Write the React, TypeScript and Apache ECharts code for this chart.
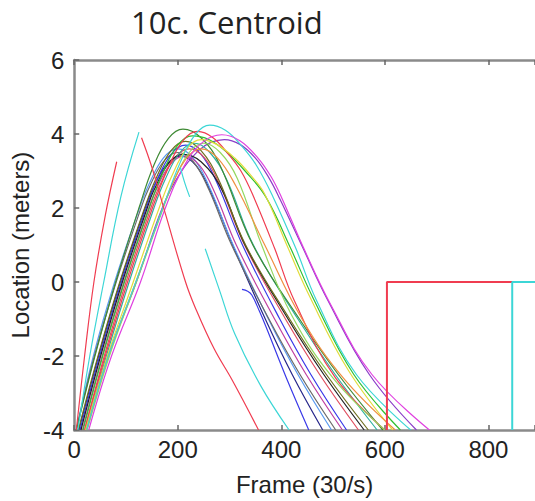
import React, { useEffect, useRef } from "react";
import * as echarts from "echarts";

const xTicks = [0, 200, 400, 600, 800];
const yTicks = [-4, -2, 0, 2, 4, 6];

const curveColors = [
  "#25258a", "#5a9af0", "#6a6a6a", "#c040a0", "#3a3ae8", "#8a3cc8",
  "#e05060", "#222222", "#6e6e1e", "#2fb0a0", "#3f8a35", "#30c030",
  "#f03c50", "#e2dc3c", "#94d860", "#f09040", "#3cd6d6", "#e040e0",
];

const curves: number[][][] = [
  [[9,-4],[47,-2],[89,0],[137,2],[148,2.4],[177,3.15],[205,3.4],[235,3.15],[265,2.4],[306,1],[369,-1],[421,-2.5],[480,-4]],
  [[4,-4],[37,-2],[78,0],[126,2],[143,2.6],[172,3.35],[200,3.6],[230,3.35],[260,2.6],[307,1],[375,-1],[432,-2.5],[497,-4]],
  [[4,-4],[39,-2],[81,0],[129,2],[143,2.5],[172,3.25],[200,3.5],[230,3.25],[260,2.5],[304,1],[376,-1],[436,-2.5],[505,-4]],
  [[16,-4],[54,-2],[96,0],[144,2],[155,2.4],[184,3.15],[212,3.4],[242,3.15],[272,2.4],[313,1],[387,-1],[448,-2.5],[518,-4]],
  [[11,-4],[49,-2],[91,0],[139,2],[158,2.7],[187,3.45],[215,3.7],[245,3.45],[275,2.7],[325,1],[397,-1],[457,-2.5],[526,-4]],
  [[24,-4],[66,-2],[120,0],[170,2],[205,2.95],[240,3.55],[265,3.78],[290,3.85],[320,3.72],[350,3.35],[375,2.84],[397,2.25],[442,0.91],[490,-0.5],[570,-2.5],[661,-4]],
  [[20,-4],[58,-2],[100,0],[148,2],[165,2.6],[194,3.35],[222,3.6],[252,3.35],[282,2.6],[329,1],[408,-1],[474,-2.5],[549,-4]],
  [[13,-4],[51,-2],[93,0],[141,2],[153,2.45],[182,3.2],[210,3.45],[245,3.25],[285,2.5],[330,1],[413,-1],[482,-2.5],[560,-4]],
  [[8,-4],[46,-2],[88,0],[136,2],[158,2.8],[187,3.55],[215,3.8],[245,3.55],[278,2.8],[331,1],[416,-1],[487,-2.5],[568,-4]],
  [[22,-4],[62,-2],[106,0],[154,2],[175,2.75],[204,3.5],[232,3.75],[262,3.5],[295,2.75],[346,1],[432,-1],[504,-2.5],[585,-4]],
  [[4,-4],[40,-2],[80,0],[125,2],[153,3.13],[182,3.88],[210,4.13],[245,3.9],[280,3.2],[345,1],[435,-1],[510,-2.5],[596,-4]],
  [[17,-4],[55,-2],[97,0],[145,2],[171,2.95],[200,3.7],[228,3.95],[260,3.85],[295,3.5],[330,3.0],[370,2.3],[418,0.91],[462,-0.45],[540,-2.5],[630,-4]],
  [[20,-4],[60,-2],[103,0],[151,2],[181,3.07],[210,3.82],[238,4.07],[268,3.9],[298,3.45],[322,3.0],[345,2.35],[387,0.91],[425,-0.5],[505,-2.6],[600,-4]],
  [[22,-4],[64,-2],[114,0],[164,2],[188,2.85],[217,3.6],[245,3.85],[275,3.72],[310,3.35],[340,2.9],[367,2.4],[412,0.95],[455,-0.4],[530,-2.4],[615,-4]],
  [[25,-4],[68,-2],[120,0],[172,2],[193,2.75],[222,3.5],[250,3.75],[282,3.5],[315,2.8],[362,1],[420,-0.9],[500,-2.6],[600,-4]],
  [[24,-4],[66,-2],[119,0],[171,2],[188,2.6],[217,3.35],[245,3.6],[277,3.35],[312,2.6],[368,1],[440,-1],[520,-2.6],[620,-4]],
  [[24,-4],[66,-2],[119,0],[171,2],[205,3.24],[234,3.99],[262,4.24],[292,4.1],[322,3.7],[352,3.15],[384,2.3],[428,0.91],[468,-0.5],[545,-2.5],[650,-4]],
  [[28,-4],[72,-2],[128,0],[176,2],[215,3.2],[250,3.8],[285,3.98],[320,3.82],[355,3.35],[380,2.85],[400,2.3],[442,0.95],[495,-0.6],[575,-2.5],[686,-4]],
];

const fragmentColors = ["#f03c50", "#3cd6d6", "#f03c50", "#3cd6d6", "#3cd6d6", "#3a3ae8"];
const fragments: number[][][] = [
  [[4,-4],[20,-2],[38,0],[60,1.8],[82,3.25]],
  [[7,-4],[30,-2],[57,0],[90,2.3],[125,4.05]],
  [[130,3.9],[150,3.1],[177,1.8],[215,0],[234,-0.7],[270,-1.8],[305,-2.65],[356,-4]],
  [[205,3.1],[213,2.7],[223,2.3]],
  [[253,0.9],[280,-0.2],[310,-1.4],[360,-2.8],[415,-4]],
  [[324,-0.2],[335,-0.25],[343,-0.35],[358,-0.8],[371,-1.23],[410,-2.6],[453,-4]],
];

const stepColors = ["#f03c50", "#3cd6d6"];
const steps: number[][][] = [
  [[604,-4],[604,0],[846,0]],
  [[846,-4],[846,0],[1000,0]],
];

export default function App() {
  const ref = useRef<HTMLDivElement>(null);
  useEffect(() => {
    if (!ref.current) return;
    const chart = echarts.init(ref.current, null, { renderer: "svg" });
    const axisLine = { onZero: false, lineStyle: { color: "#8a8a8a", width: 2.5 } };
    const axisTick = { inside: true, length: 5, lineStyle: { color: "#666", width: 1.5 } };
    const font = "Liberation Sans";
    const series: any[] = [];
    curves.forEach((d, i) =>
      series.push({
        type: "line", data: d, smooth: 0.4, showSymbol: false, clip: true,
        lineStyle: { color: curveColors[i], width: 1.2 }, silent: true,
      })
    );
    fragments.forEach((d, i) =>
      series.push({
        type: "line", data: d, smooth: 0.4, showSymbol: false, clip: true,
        lineStyle: { color: fragmentColors[i], width: 1.2 }, silent: true,
      })
    );
    steps.forEach((d, i) =>
      series.push({
        type: "line", data: d, smooth: false, showSymbol: false, clip: true,
        lineStyle: { color: stepColors[i], width: 2 }, silent: true,
      })
    );
    chart.setOption({
      animation: false,
      backgroundColor: "#ffffff",
      title: {
        text: "10c. Centroid",
        left: 126,
        top: 1,
        textStyle: { fontFamily: "Open Sans", fontWeight: "normal", fontSize: 31, color: "#222" },
      },
      grid: { left: 69, top: 60, right: 0, bottom: 68 },
      xAxis: [
        {
          type: "value", min: 0, max: 890, interval: 200,
          name: "Frame (30/s)", nameLocation: "middle", nameGap: 42,
          nameTextStyle: { fontFamily: font, fontSize: 24, color: "#222" },
          axisLine, axisTick,
          axisLabel: { margin: 7, fontFamily: font, fontSize: 24, color: "#222", customValues: xTicks },
          splitLine: { show: false },
        },
        {
          type: "value", position: "top", min: 0, max: 890, interval: 200,
          axisLine, axisTick, axisLabel: { show: false }, splitLine: { show: false },
        },
      ],
      yAxis: {
        type: "value", min: -4, max: 6, interval: 2,
        name: "Location (meters)", nameLocation: "middle", nameGap: 38,
        nameTextStyle: { fontFamily: font, fontSize: 24, color: "#222" },
        axisLine, axisTick,
        axisLabel: { margin: 10, fontFamily: font, fontSize: 24, color: "#222", customValues: yTicks },
        splitLine: { show: false },
      },
      series,
    });
    return () => chart.dispose();
  }, []);
  return (
    <div
      ref={ref}
      style={{ position: "fixed", left: 0, top: 0, width: 535, height: 501, background: "#fff" }}
    />
  );
}
